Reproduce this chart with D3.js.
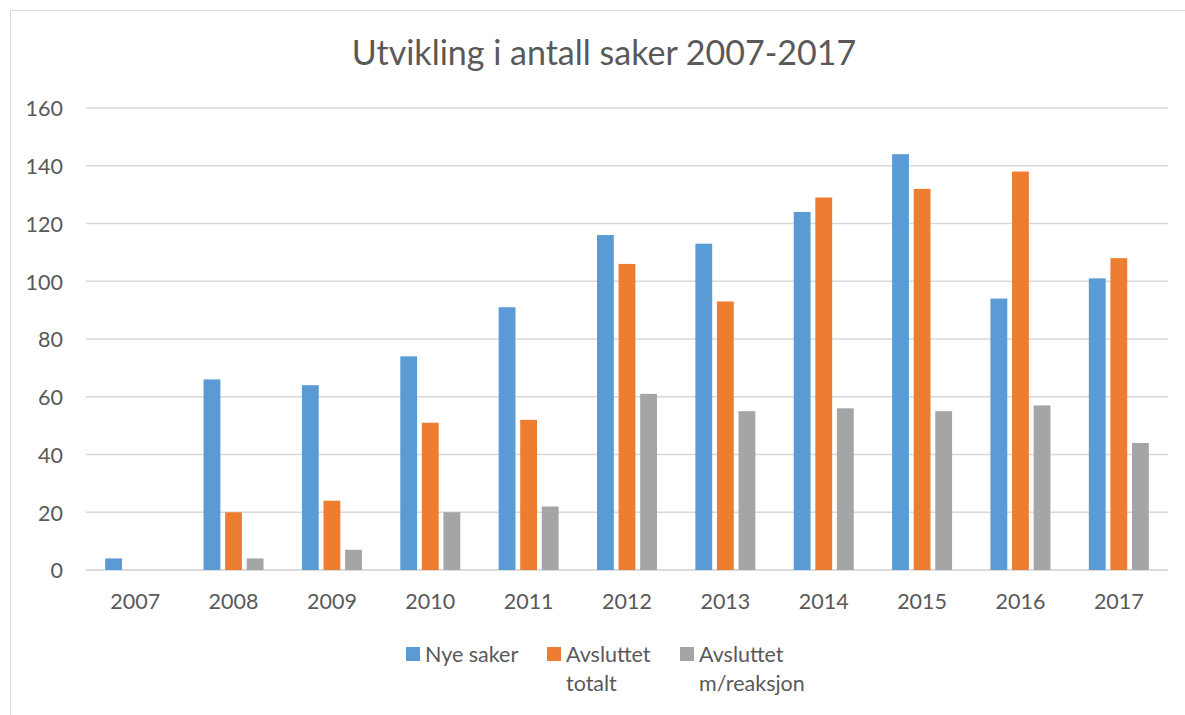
<!DOCTYPE html>
<html lang="no">
<head>
<meta charset="utf-8">
<title>Utvikling i antall saker 2007-2017</title>
<script src="https://cdn.jsdelivr.net/npm/d3@7"></script>
<style>
  body { margin: 0; background: #fff; }
  svg text { font-family: Lato, "Open Sans", sans-serif; fill: #595959; }
</style>
</head>
<body>
<svg id="chart" width="1185" height="715"></svg>
<script>
// data
var years = ["2007", "2008", "2009", "2010", "2011", "2012", "2013", "2014", "2015", "2016", "2017"];
var nyeSaker = [4, 66, 64, 74, 91, 116, 113, 124, 144, 94, 101];
var avsluttetTotalt = [0, 20, 24, 51, 52, 106, 93, 129, 132, 138, 108];
var avsluttetReaksjon = [0, 4, 7, 20, 22, 61, 55, 56, 55, 57, 44];
var yTicks = [0, 20, 40, 60, 80, 100, 120, 140, 160];

var seriesNames = [["Nye saker"], ["Avsluttet", "totalt"], ["Avsluttet", "m/reaksjon"]];
var seriesColors = ["#5B9BD5", "#ED7D31", "#A5A5A5"];
var seriesValues = [nyeSaker, avsluttetTotalt, avsluttetReaksjon];

var svg = d3.select("#chart");

// chart frame (only left/top visible in the crop)
svg.append("rect")
  .attr("x", 10.5).attr("y", 10.5)
  .attr("width", 1300).attr("height", 800)
  .attr("fill", "#fff")
  .attr("stroke", "#D9D9D9");

var plot = { left: 86, right: 1168, top: 108, bottom: 570 };

var x0 = d3.scaleBand()
  .domain(years)
  .range([plot.left, plot.right])
  .paddingInner(0)
  .paddingOuter(0);

var groupW = 60;
var x1 = d3.scaleBand()
  .domain([0, 1, 2])
  .range([0, groupW])
  .paddingInner(0.22);

var y = d3.scaleLinear()
  .domain([0, 160])
  .range([plot.bottom, plot.top]);

// gridlines
svg.append("g")
  .selectAll("line")
  .data(yTicks)
  .enter().append("line")
  .attr("x1", plot.left)
  .attr("x2", plot.right)
  .attr("y1", function (d) { return y(d); })
  .attr("y2", function (d) { return y(d); })
  .attr("stroke", function (d) { return d === 0 ? "#D0D0D0" : "#D9D9D9"; })
  .attr("stroke-width", function (d) { return d === 0 ? 1.6 : 1.3; });

// y axis labels
var yAxis = d3.axisLeft(y).tickValues(yTicks).tickSize(0).tickPadding(0);
var ya = svg.append("g")
  .attr("transform", "translate(63,0)")
  .call(yAxis);
ya.select(".domain").remove();
ya.selectAll("text")
  .attr("font-size", 21.5)
  .attr("dy", "0.36em")
  .style("font-family", "Lato, sans-serif")
  .attr("fill", "#595959");

// bars
var rows = years.map(function (yr, i) {
  return { year: yr, values: seriesValues.map(function (s) { return s[i]; }) };
});

var groups = svg.append("g")
  .selectAll("g")
  .data(rows)
  .enter().append("g")
  .attr("transform", function (d) {
    return "translate(" + (x0(d.year) + (x0.bandwidth() - groupW) / 2) + ",0)";
  });

groups.selectAll("rect")
  .data(function (d) { return d.values.map(function (v, k) { return { k: k, v: v }; }); })
  .enter().append("rect")
  .attr("x", function (d) { return x1(d.k); })
  .attr("y", function (d) { return y(d.v); })
  .attr("width", x1.bandwidth())
  .attr("height", function (d) { return y(0) - y(d.v); })
  .attr("fill", function (d) { return seriesColors[d.k]; });

// x axis labels
var xAxis = d3.axisBottom(x0).tickSize(0).tickPadding(0);
var xa = svg.append("g")
  .attr("transform", "translate(0,609)")
  .call(xAxis);
xa.select(".domain").remove();
xa.selectAll("text")
  .attr("font-size", 21.5)
  .attr("dy", 0)
  .style("font-family", "Lato, sans-serif")
  .attr("fill", "#595959");

// title
svg.append("text")
  .attr("x", 604)
  .attr("y", 65)
  .attr("text-anchor", "middle")
  .attr("font-size", 34)
  .text("Utvikling i antall saker 2007-2017");

// legend
var legendX = [406, 547, 680];
var legend = svg.append("g")
  .selectAll("g")
  .data(seriesNames)
  .enter().append("g")
  .attr("transform", function (d, i) { return "translate(" + legendX[i] + ",0)"; });

legend.append("rect")
  .attr("y", 647)
  .attr("width", 14)
  .attr("height", 14)
  .attr("fill", function (d, i) { return seriesColors[i]; });

legend.append("text")
  .attr("x", 19)
  .attr("y", 662)
  .attr("font-size", 21.5)
  .selectAll("tspan")
  .data(function (d) { return d; })
  .enter().append("tspan")
  .attr("x", 19)
  .attr("dy", function (d, i) { return i === 0 ? 0 : 29; })
  .text(function (d) { return d; });
</script>
</body>
</html>
